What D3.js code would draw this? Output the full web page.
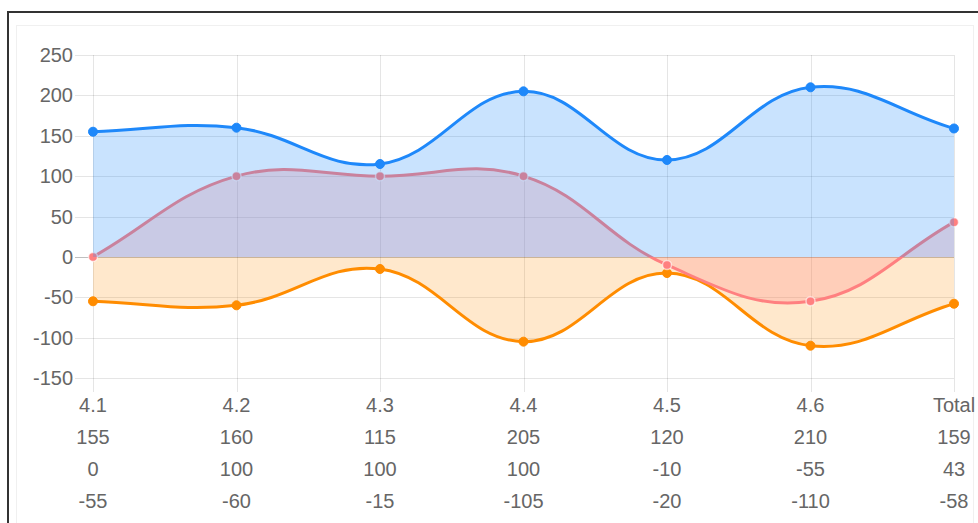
<!DOCTYPE html>
<html>
<head>
<meta charset="utf-8">
<script src="https://cdn.jsdelivr.net/npm/d3@7/dist/d3.min.js"></script>
<style>
  html, body { margin: 0; padding: 0; background: #fff; }
  svg { display: block; font-family: "Liberation Sans", Arial, Helvetica, sans-serif; }
</style>
</head>
<body>
<svg id="chart" width="978" height="523"></svg>
<script>
// Categories and the three series (values also listed under each category)
const categories = ["4.1", "4.2", "4.3", "4.4", "4.5", "4.6", "Total"];
const seriesA = [155, 160, 115, 205, 120, 210, 159];
const seriesB = [0, 100, 100, 100, -10, -55, 43];
const seriesC = [-55, -60, -15, -105, -20, -110, -58];
const yTicks = [250, 200, 150, 100, 50, 0, -50, -100, -150];

const svg = d3.select("#chart");
const W = 978, H = 523;

// Outer frame and card
svg.append("rect").attr("x", 8).attr("y", 12).attr("width", W).attr("height", H)
  .attr("fill", "none").attr("stroke", "#333").attr("stroke-width", 2);
svg.append("rect").attr("x", 16.5).attr("y", 25.5).attr("width", 957).attr("height", H)
  .attr("fill", "none").attr("stroke", "#f0f0f0").attr("stroke-width", 1);

const plotLeft = 93, plotRight = 954, plotTop = 55, plotBottom = 378;
const x = d3.scalePoint().domain(categories).range([plotLeft, plotRight]).padding(0);
const y = d3.scaleLinear().domain([-150, 250]).range([plotBottom, plotTop]);

const grid = svg.append("g");
// horizontal grid lines with tick marks extending left
yTicks.forEach(t => {
  grid.append("line")
    .attr("x1", plotLeft - 18).attr("x2", plotRight)
    .attr("y1", Math.round(y(t)) + 0.5).attr("y2", Math.round(y(t)) + 0.5)
    .attr("stroke", t === 0 ? "rgba(0,0,0,0.25)" : "rgba(0,0,0,0.1)")
    .attr("stroke-width", 1);
});
// vertical grid lines with tick marks extending down
categories.forEach(c => {
  grid.append("line")
    .attr("x1", Math.round(x(c)) + 0.5).attr("x2", Math.round(x(c)) + 0.5)
    .attr("y1", plotTop).attr("y2", plotBottom + 14)
    .attr("stroke", "rgba(0,0,0,0.1)").attr("stroke-width", 1);
});

// Y axis labels
svg.append("g").selectAll("text").data(yTicks).join("text")
  .attr("x", plotLeft - 20).attr("y", d => y(d))
  .attr("dy", "0.35em").attr("text-anchor", "end")
  .attr("font-size", 20).attr("fill", "#666")
  .text(d => d);

// X axis labels: category followed by each series' value
const xl = svg.append("g");
categories.forEach((c, i) => {
  const lines = [c, seriesA[i], seriesB[i], seriesC[i]];
  lines.forEach((t, j) => {
    xl.append("text")
      .attr("x", x(c)).attr("y", 405 + j * 32)
      .attr("dy", "0.35em").attr("text-anchor", "middle")
      .attr("font-size", 20).attr("fill", "#666")
      .text(t);
  });
});

// Bezier control points in the style of a tension-0.4 spline
function controlPoints(pts, t) {
  const out = pts.map(p => ({ x: p.x, y: p.y }));
  for (let i = 0; i < pts.length; i++) {
    const prev = pts[i - 1] || pts[i];
    const cur = pts[i];
    const next = pts[i + 1] || pts[i];
    const d01 = Math.hypot(cur.x - prev.x, cur.y - prev.y);
    const d12 = Math.hypot(next.x - cur.x, next.y - cur.y);
    let s01 = d01 / (d01 + d12), s12 = d12 / (d01 + d12);
    if (!isFinite(s01)) s01 = 0;
    if (!isFinite(s12)) s12 = 0;
    const fa = t * s01, fb = t * s12;
    out[i].c1x = cur.x - fa * (next.x - prev.x);
    out[i].c1y = cur.y - fa * (next.y - prev.y);
    out[i].c2x = cur.x + fb * (next.x - prev.x);
    out[i].c2y = cur.y + fb * (next.y - prev.y);
    out[i].c1y = Math.max(plotTop, Math.min(plotBottom, out[i].c1y));
    out[i].c2y = Math.max(plotTop, Math.min(plotBottom, out[i].c2y));
  }
  return out;
}

function curvePath(p, ctx) {
  ctx.moveTo(p[0].x, p[0].y);
  for (let i = 1; i < p.length; i++) {
    ctx.bezierCurveTo(p[i - 1].c2x, p[i - 1].c2y, p[i].c1x, p[i].c1y, p[i].x, p[i].y);
  }
  return ctx;
}

const series = [
  { values: seriesC, line: "rgb(255,140,0)", fill: "rgba(255,140,0,0.2)", pointBorder: null },
  { values: seriesB, line: "rgb(255,128,128)", fill: "rgba(255,128,128,0.25)", pointBorder: "rgba(255,255,255,0.6)" },
  { values: seriesA, line: "rgb(30,136,250)", fill: "rgba(30,136,250,0.24)", pointBorder: null }
];

const plot = svg.append("g");
series.forEach(s => {
  const pts = controlPoints(categories.map((c, i) => ({ x: x(c), y: y(s.values[i]) })), 0.4);
  const fp = curvePath(pts, d3.path());
  fp.lineTo(pts[pts.length - 1].x, y(0));
  fp.lineTo(pts[0].x, y(0));
  fp.closePath();
  plot.append("path").attr("d", fp.toString()).attr("fill", s.fill).attr("stroke", "none");
  plot.append("path").attr("d", curvePath(pts, d3.path()).toString())
    .attr("fill", "none").attr("stroke", s.line).attr("stroke-width", 3);
  plot.append("g").selectAll("circle").data(pts).join("circle")
    .attr("cx", d => d.x).attr("cy", d => d.y).attr("r", 4.5)
    .attr("fill", s.line)
    .attr("stroke", s.pointBorder || s.line)
    .attr("stroke-width", s.pointBorder ? 1.5 : 1);
});
</script>
</body>
</html>
